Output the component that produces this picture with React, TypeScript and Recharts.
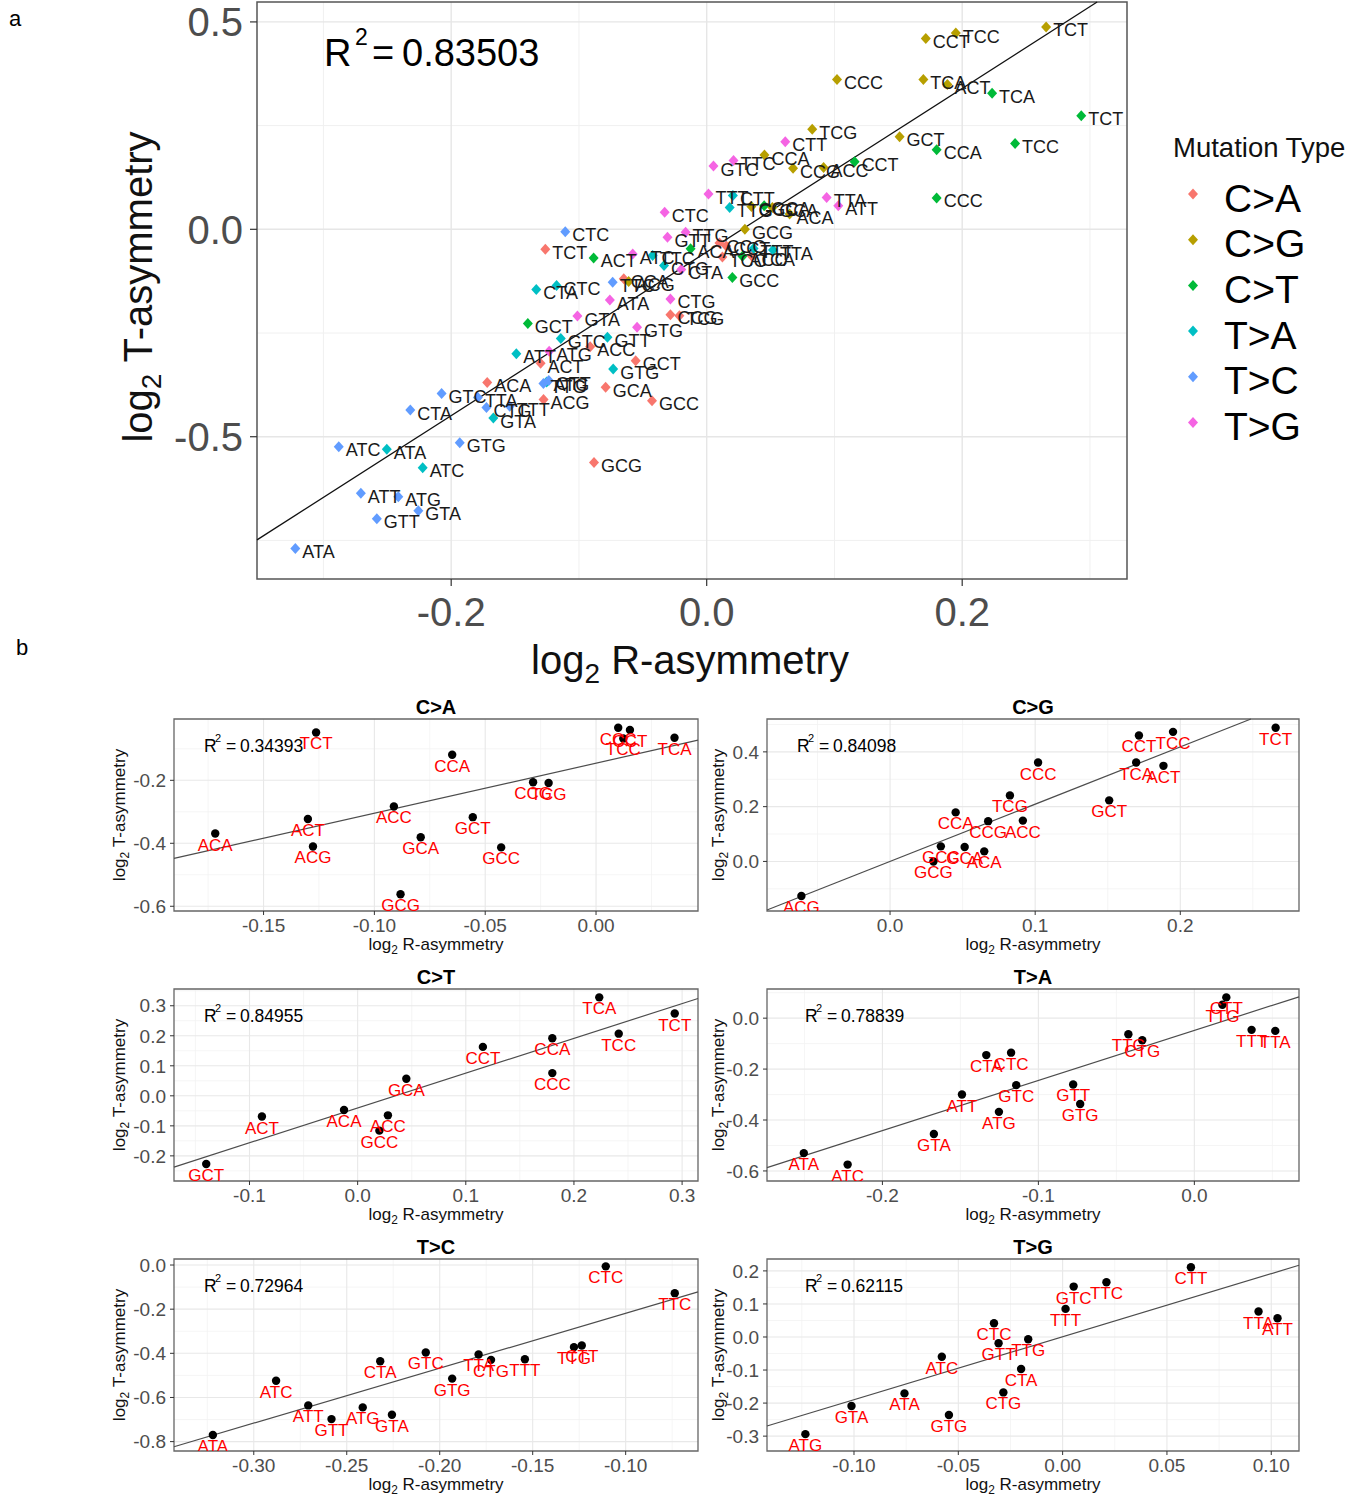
import React from 'react';
import { ScatterChart, Scatter, XAxis, YAxis, CartesianGrid, ReferenceLine, ReferenceArea } from 'recharts';

const FONT = '"Liberation Sans", Arial, Helvetica, sans-serif';

// ---------- categories ----------
const MUTATION_TYPES = ['C>A', 'C>G', 'C>T', 'T>A', 'T>C', 'T>G'];
const TYPE_COLORS = ['#F8766D', '#B79F00', '#00BA38', '#00BFC4', '#619CFF', '#F564E3'];
const C_CONTEXTS = ['ACA', 'ACC', 'ACG', 'ACT', 'CCA', 'CCC', 'CCG', 'CCT', 'GCA', 'GCC', 'GCG', 'GCT', 'TCA', 'TCC', 'TCG', 'TCT'];
const CT_CONTEXTS = ['ACA', 'ACC', 'ACT', 'CCA', 'CCC', 'CCT', 'GCA', 'GCC', 'GCT', 'TCA', 'TCC', 'TCT'];
const T_CONTEXTS = ['ATA', 'ATC', 'ATG', 'ATT', 'CTA', 'CTC', 'CTG', 'CTT', 'GTA', 'GTC', 'GTG', 'GTT', 'TTA', 'TTC', 'TTG', 'TTT'];

// ---------- series values (log2 R-asymmetry, log2 T-asymmetry) ----------
const CA_R = [-0.1718, -0.0912, -0.1277, -0.130, -0.0649, 0.010, -0.0284, 0.0153, -0.0791, -0.0428, -0.0882, -0.0556, 0.0354, 0.0123, -0.0214, -0.1263];
const CA_T = [-0.369, -0.283, -0.410, -0.323, -0.119, -0.033, -0.206, -0.040, -0.381, -0.413, -0.562, -0.317, -0.065, -0.067, -0.2085, -0.048];
const CG_R = [0.0649, 0.0915, -0.0611, 0.1884, 0.0452, 0.102, 0.0676, 0.1715, 0.0514, 0.035, 0.0299, 0.151, 0.1696, 0.195, 0.0826, 0.2657];
const CG_T = [0.0367, 0.149, -0.126, 0.349, 0.179, 0.361, 0.147, 0.460, 0.0526, 0.055, 0.0, 0.223, 0.361, 0.473, 0.241, 0.488];
const CT_R = [-0.0126, 0.028, -0.0885, 0.180, 0.180, 0.1158, 0.045, 0.0201, -0.140, 0.2234, 0.2414, 0.2932];
const CT_T = [-0.047, -0.065, -0.069, 0.1917, 0.0757, 0.163, 0.0567, -0.116, -0.227, 0.328, 0.207, 0.274];
const TA_R = [-0.2504, -0.2223, -0.1253, -0.149, -0.1334, -0.1175, -0.0334, 0.0205, -0.167, -0.1142, -0.0732, -0.0777, 0.0519, -0.0423, 0.018, 0.0367];
const TA_T = [-0.530, -0.575, -0.368, -0.300, -0.145, -0.1355, -0.087, 0.0816, -0.455, -0.263, -0.337, -0.2605, -0.050, -0.063, 0.0526, -0.046];
const TC_R = [-0.322, -0.288, -0.2414, -0.2707, -0.232, -0.1107, -0.1724, -0.1236, -0.2257, -0.2075, -0.1933, -0.2582, -0.1791, -0.0736, -0.1278, -0.1542];
const TC_T = [-0.7697, -0.524, -0.645, -0.636, -0.4357, -0.006, -0.4296, -0.3644, -0.6786, -0.396, -0.5146, -0.698, -0.4053, -0.1275, -0.3719, -0.4266];
const TG_R = [-0.0758, -0.0579, -0.1233, 0.103, -0.0199, -0.0329, -0.0284, 0.0615, -0.1012, 0.0053, -0.0545, -0.0307, 0.0939, 0.021, -0.0165, 0.0014];
const TG_T = [-0.1707, -0.0596, -0.294, 0.0566, -0.097, 0.0414, -0.1677, 0.211, -0.209, 0.1525, -0.236, -0.019, 0.077, 0.1657, -0.007, 0.085];

const PANEL_R2 = ['0.34393', '0.84098', '0.84955', '0.78839', '0.72964', '0.62115'];
const MAIN_R2 = '0.83503';

// ---------- tick labels ----------
const MAIN_XTICKS = [-0.2, 0.0, 0.2];
const MAIN_YTICKS = [-0.5, 0.0, 0.5];
const MAIN_XMINOR = [-0.3, -0.1, 0.1, 0.3];
const MAIN_YMINOR = [-0.75, -0.25, 0.25];
const CA_XTICKS = [-0.15, -0.10, -0.05, 0.00];
const CA_YTICKS = [-0.6, -0.4, -0.2];
const CG_XTICKS = [0.0, 0.1, 0.2];
const CG_YTICKS = [0.0, 0.2, 0.4];
const CT_XTICKS = [-0.1, 0.0, 0.1, 0.2, 0.3];
const CT_YTICKS = [-0.2, -0.1, 0.0, 0.1, 0.2, 0.3];
const TA_XTICKS = [-0.2, -0.1, 0.0];
const TA_YTICKS = [-0.6, -0.4, -0.2, 0.0];
const TC_XTICKS = [-0.30, -0.25, -0.20, -0.15, -0.10];
const TC_YTICKS = [-0.8, -0.6, -0.4, -0.2, 0.0];
const TG_XTICKS = [-0.10, -0.05, 0.00, 0.05, 0.10];
const TG_YTICKS = [-0.3, -0.2, -0.1, 0.0, 0.1, 0.2];

type Pt = { rAsym: number; tAsym: number; label: string; type: number };

const SERIES = [
  { contexts: C_CONTEXTS, r: CA_R, t: CA_T },
  { contexts: C_CONTEXTS, r: CG_R, t: CG_T },
  { contexts: CT_CONTEXTS, r: CT_R, t: CT_T },
  { contexts: T_CONTEXTS, r: TA_R, t: TA_T },
  { contexts: T_CONTEXTS, r: TC_R, t: TC_T },
  { contexts: T_CONTEXTS, r: TG_R, t: TG_T },
];

const SERIES_POINTS: Pt[][] = SERIES.map((s, ti) =>
  s.contexts.map((c, i) => ({ rAsym: s.r[i], tAsym: s.t[i], label: c, type: ti }))
);
const ALL_POINTS: Pt[] = SERIES_POINTS.flat();

// ---------- layout (positions / styles) ----------
const SMALL_LAYOUT = [
  { xDomain: [-0.1904, 0.046], yDomain: [-0.615, -0.0053], xTicks: CA_XTICKS, yTicks: CA_YTICKS, xMinor: [-0.175, -0.125, -0.075, -0.025, 0.025], yMinor: [-0.5, -0.3, -0.1], xDec: 2, yDec: 1, col: 0, row: 0, r2x: 204 },
  { xDomain: [-0.0848, 0.2818], yDomain: [-0.181, 0.52], xTicks: CG_XTICKS, yTicks: CG_YTICKS, xMinor: [-0.05, 0.05, 0.15, 0.25], yMinor: [-0.1, 0.1, 0.3, 0.5], xDec: 1, yDec: 1, col: 1, row: 0, r2x: 797 },
  { xDomain: [-0.1698, 0.3147], yDomain: [-0.2837, 0.3558], xTicks: CT_XTICKS, yTicks: CT_YTICKS, xMinor: [-0.15, -0.05, 0.05, 0.15, 0.25], yMinor: [-0.25, -0.15, -0.05, 0.05, 0.15, 0.25, 0.35], xDec: 1, yDec: 1, col: 0, row: 1, r2x: 204 },
  { xDomain: [-0.274, 0.0671], yDomain: [-0.6395, 0.1145], xTicks: TA_XTICKS, yTicks: TA_YTICKS, xMinor: [-0.25, -0.15, -0.05, 0.05], yMinor: [-0.5, -0.3, -0.1, 0.1], xDec: 1, yDec: 1, col: 1, row: 1, r2x: 805 },
  { xDomain: [-0.3429, -0.0611], yDomain: [-0.8425, 0.0273], xTicks: TC_XTICKS, yTicks: TC_YTICKS, xMinor: [-0.325, -0.275, -0.225, -0.175, -0.125, -0.075], yMinor: [-0.7, -0.5, -0.3, -0.1], xDec: 2, yDec: 1, col: 0, row: 2, r2x: 204 },
  { xDomain: [-0.1417, 0.1133], yDomain: [-0.345, 0.236], xTicks: TG_XTICKS, yTicks: TG_YTICKS, xMinor: [-0.125, -0.075, -0.025, 0.025, 0.075], yMinor: [-0.25, -0.15, -0.05, 0.05, 0.15], xDec: 2, yDec: 1, col: 1, row: 2, r2x: 805 },
];
const COLS = [
  { svgLeft: 100, yAxisW: 74, mRight: 2, plotLeft: 174, plotRight: 698, yTitleX: 125 },
  { svgLeft: 700, yAxisW: 67, mRight: 1, plotLeft: 767, plotRight: 1299, yTitleX: 724 },
];
const ROW_TOPS = [719, 989, 1259];
const SMALL_H = 192;
const SMALL_PAD = 20;

// ---------- helpers ----------
function fitLine(pts: Pt[]) {
  const n = pts.length;
  const mx = pts.reduce((s, p) => s + p.rAsym, 0) / n;
  const my = pts.reduce((s, p) => s + p.tAsym, 0) / n;
  let sxx = 0, sxy = 0;
  pts.forEach((p) => { sxx += (p.rAsym - mx) ** 2; sxy += (p.rAsym - mx) * (p.tAsym - my); });
  const b = sxy / sxx;
  return { a: my - b * mx, b };
}
function clipSegment(a: number, b: number, xd: number[], yd: number[]) {
  let xa = xd[0], xb = xd[1];
  if (b !== 0) {
    const x0 = (yd[0] - a) / b, x1 = (yd[1] - a) / b;
    xa = Math.max(xa, Math.min(x0, x1));
    xb = Math.min(xb, Math.max(x0, x1));
  }
  return [{ x: xa, y: a + b * xa }, { x: xb, y: a + b * xb }];
}

const MainDiamond = (p: any) => {
  const { cx, cy, payload } = p;
  if (cx == null || cy == null) return <g />;
  return <path d={`M${cx},${cy - 5.5}L${cx + 5},${cy}L${cx},${cy + 5.5}L${cx - 5},${cy}Z`} fill={TYPE_COLORS[payload.type]} />;
};
const MainLabel = (p: any) => {
  const { cx, cy, payload } = p;
  if (cx == null || cy == null) return <g />;
  return <text x={cx + 7} y={cy + 9.5} fontSize={18} fill="#1a1a1a" fontFamily={FONT}>{payload.label}</text>;
};
const SmallDot = (p: any) => {
  const { cx, cy } = p;
  if (cx == null || cy == null) return <g />;
  return <circle cx={cx} cy={cy} r={4.2} fill="#000" />;
};
const SmallLabel = (p: any) => {
  const { cx, cy, payload } = p;
  if (cx == null || cy == null) return <g />;
  return <text x={cx} y={cy + 17} textAnchor="middle" fontSize={17} fill="#FF0000" fontFamily={FONT}>{payload.label}</text>;
};

const MAIN_XD = [-0.352, 0.329];
const MAIN_YD = [-0.843, 0.548];

function MainChart() {
  const { a, b } = fitLine(ALL_POINTS);
  const seg = clipSegment(a, b, MAIN_XD, MAIN_YD);
  return (
    <div style={{ position: 'absolute', left: 0, top: 0 }}>
      <ScatterChart width={1140} height={640} margin={{ top: 2, right: 13, bottom: 0, left: 0 }}>
        <CartesianGrid stroke="#f0f0f0" strokeWidth={1} horizontalValues={MAIN_YMINOR} verticalValues={MAIN_XMINOR} />
        <CartesianGrid stroke="#e6e6e6" strokeWidth={1.4} horizontalValues={MAIN_YTICKS} verticalValues={MAIN_XTICKS} />
        <XAxis type="number" dataKey="rAsym" domain={MAIN_XD} ticks={MAIN_XTICKS} interval={0} allowDataOverflow
          tickFormatter={(v: number) => v.toFixed(1)} axisLine={false} tickLine={{ stroke: '#333', strokeWidth: 1.2 }}
          tickSize={7} tickMargin={12} height={61} tick={{ fontSize: 40, fill: '#4d4d4d', fontFamily: FONT }} />
        <YAxis type="number" dataKey="tAsym" domain={MAIN_YD} ticks={MAIN_YTICKS} interval={0} allowDataOverflow
          tickFormatter={(v: number) => v.toFixed(1)} axisLine={false} tickLine={{ stroke: '#333', strokeWidth: 1.2 }}
          tickSize={7} tickMargin={7} width={257} tick={{ fontSize: 40, fill: '#4d4d4d', fontFamily: FONT }} />
        <Scatter data={ALL_POINTS} shape={MainDiamond} isAnimationActive={false} />
        <Scatter data={ALL_POINTS} shape={MainLabel} isAnimationActive={false} />
        <ReferenceLine segment={seg} stroke="#111" strokeWidth={1.3} ifOverflow="visible" />
        <ReferenceArea x1={MAIN_XD[0]} x2={MAIN_XD[1]} y1={MAIN_YD[0]} y2={MAIN_YD[1]} fill="none" stroke="#555" strokeWidth={1.5} ifOverflow="visible" />
      </ScatterChart>
    </div>
  );
}

function SmallChart({ idx }: { idx: number }) {
  const L = SMALL_LAYOUT[idx];
  const C = COLS[L.col];
  const top = ROW_TOPS[L.row];
  const pts = SERIES_POINTS[idx];
  const { a, b } = fitLine(pts);
  const seg = clipSegment(a, b, L.xDomain, L.yDomain);
  return (
    <div style={{ position: 'absolute', left: C.svgLeft, top: top - SMALL_PAD }}>
      <ScatterChart width={600} height={SMALL_H + 30 + SMALL_PAD} margin={{ top: SMALL_PAD, right: C.mRight, bottom: 0, left: 0 }}>
        <CartesianGrid stroke="#f2f2f2" strokeWidth={0.8} horizontalValues={L.yMinor} verticalValues={L.xMinor} />
        <CartesianGrid stroke="#e8e8e8" strokeWidth={1.1} horizontalValues={L.yTicks} verticalValues={L.xTicks} />
        <XAxis type="number" dataKey="rAsym" domain={L.xDomain} ticks={L.xTicks} interval={0} allowDataOverflow
          tickFormatter={(v: number) => v.toFixed(L.xDec)} axisLine={false} tickLine={{ stroke: '#333' }}
          tickSize={4} tickMargin={4} height={30} tick={{ fontSize: 19, fill: '#4d4d4d', fontFamily: FONT }} />
        <YAxis type="number" dataKey="tAsym" domain={L.yDomain} ticks={L.yTicks} interval={0} allowDataOverflow
          tickFormatter={(v: number) => v.toFixed(L.yDec)} axisLine={false} tickLine={{ stroke: '#333' }}
          tickSize={4} tickMargin={4} width={C.yAxisW} tick={{ fontSize: 19, fill: '#4d4d4d', fontFamily: FONT }} />
        <Scatter data={pts} shape={SmallDot} isAnimationActive={false} />
        <Scatter data={pts} shape={SmallLabel} isAnimationActive={false} />
        <ReferenceLine segment={seg} stroke="#4d4d4d" strokeWidth={1.2} ifOverflow="visible" />
        <ReferenceArea x1={L.xDomain[0]} x2={L.xDomain[1]} y1={L.yDomain[0]} y2={L.yDomain[1]} fill="none" stroke="#666" strokeWidth={1.3} ifOverflow="visible" />
      </ScatterChart>
    </div>
  );
}

function AxisTitleX({ x, y, size, text }: { x: number; y: number; size: number; text: string }) {
  return (
    <text x={x} y={y} textAnchor="middle" fontSize={size} fill="#111" fontFamily={FONT}>
      log<tspan fontSize={size * 0.7} dy={size * 0.22}>2</tspan><tspan dy={-size * 0.22}>{'\u00A0' + text}</tspan>
    </text>
  );
}
function AxisTitleY({ x, y, size, text }: { x: number; y: number; size: number; text: string }) {
  return (
    <text transform={`translate(${x},${y}) rotate(-90)`} textAnchor="middle" fontSize={size} fill="#111" fontFamily={FONT}>
      log<tspan fontSize={size * 0.7} dy={size * 0.22}>2</tspan><tspan dy={-size * 0.22}>{'\u00A0' + text}</tspan>
    </text>
  );
}

function Overlay() {
  return (
    <svg width={1359} height={1496} style={{ position: 'absolute', left: 0, top: 0, pointerEvents: 'none' }}>
      <text x={9} y={26} fontSize={22} fill="#000" fontFamily={FONT}>a</text>
      <text x={16} y={655} fontSize={22} fill="#000" fontFamily={FONT}>b</text>
      {/* main R2 */}
      <text y={66} fontSize={38} fill="#000" fontFamily={FONT}>
        <tspan x={324}>R</tspan>
        <tspan x={355} dy={-21} fontSize={23}>2</tspan>
        <tspan x={372} dy={21}>=</tspan>
        <tspan x={402}>{MAIN_R2}</tspan>
      </text>
      <AxisTitleX x={690} y={674} size={40} text="R-asymmetry" />
      <AxisTitleY x={152} y={287} size={40} text="T-asymmetry" />
      {/* legend */}
      <text x={1173} y={157} fontSize={27.5} fill="#111" fontFamily={FONT}>Mutation Type</text>
      {MUTATION_TYPES.map((t, i) => {
        const cy = 194 + i * 45.7;
        const cx = 1193;
        return (
          <g key={t}>
            <path d={`M${cx},${cy - 5.5}L${cx + 5},${cy}L${cx},${cy + 5.5}L${cx - 5},${cy}Z`} fill={TYPE_COLORS[i]} />
            <text x={1224} y={cy + 17.5} fontSize={39} fill="#000" fontFamily={FONT}>{t}</text>
          </g>
        );
      })}
      {/* small panel annotations */}
      {SMALL_LAYOUT.map((L, i) => {
        const C = COLS[L.col];
        const top = ROW_TOPS[L.row];
        const cx = (C.plotLeft + C.plotRight) / 2;
        return (
          <g key={i}>
            <text x={cx} y={top - 5} textAnchor="middle" fontSize={20} fontWeight="bold" fill="#000" fontFamily={FONT}>{MUTATION_TYPES[i]}</text>
            <text y={top + 33} fontSize={17.5} fill="#000" fontFamily={FONT}>
              <tspan x={L.r2x}>R</tspan>
              <tspan x={L.r2x + 11} dy={-10} fontSize={11}>2</tspan>
              <tspan x={L.r2x + 22} dy={10}>=</tspan>
              <tspan x={L.r2x + 36}>{PANEL_R2[i]}</tspan>
            </text>
            <AxisTitleX x={cx} y={top + SMALL_H + 39} size={17} text="R-asymmetry" />
            <AxisTitleY x={C.yTitleX} y={top + SMALL_H / 2} size={17} text="T-asymmetry" />
          </g>
        );
      })}
    </svg>
  );
}

export default function App() {
  return (
    <div style={{ position: 'absolute', left: 0, top: 0, width: 1359, height: 1496, background: '#fff', fontFamily: FONT }}>
      <MainChart />
      {SMALL_LAYOUT.map((_, i) => <SmallChart key={i} idx={i} />)}
      <Overlay />
    </div>
  );
}
